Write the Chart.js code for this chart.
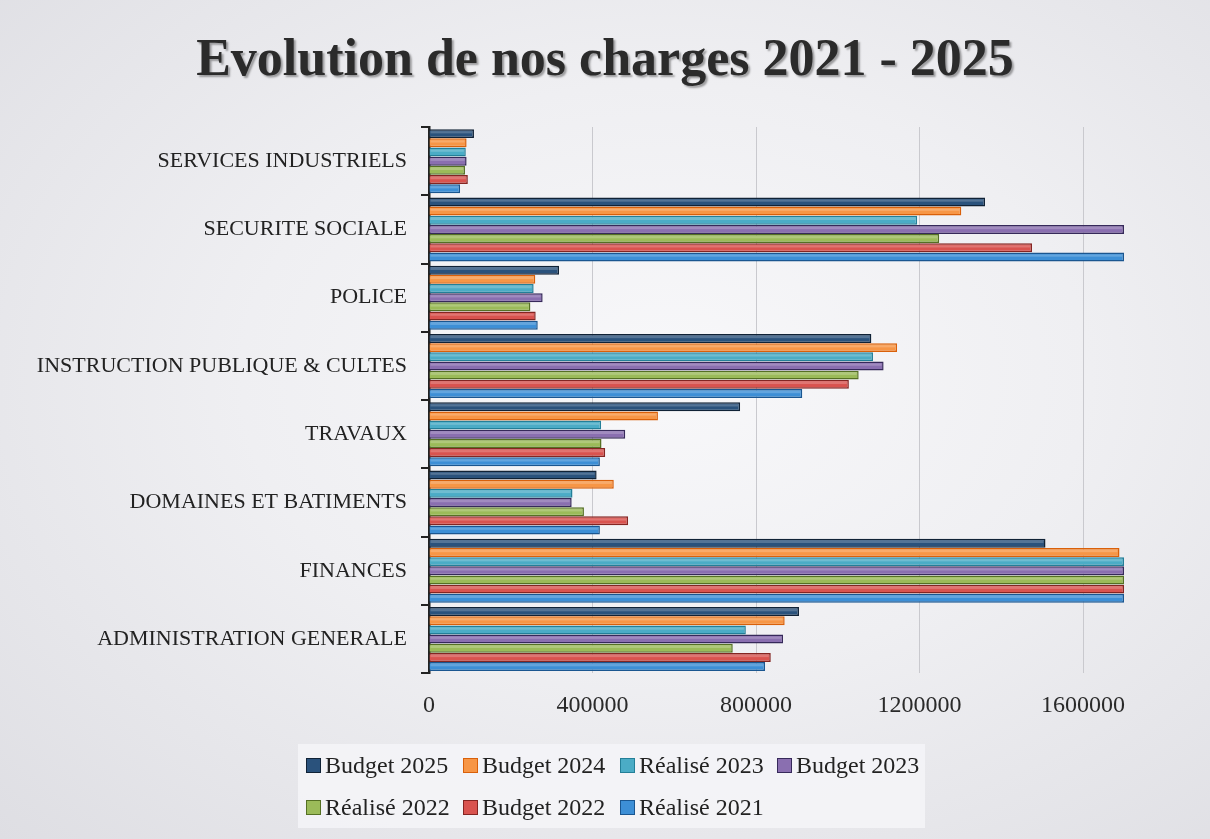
<!DOCTYPE html>
<html>
<head>
<meta charset="utf-8">
<script src="https://cdn.jsdelivr.net/npm/chart.js@4.4.1/dist/chart.umd.min.js"></script>
<style>
  html,body{margin:0;padding:0;}
  body{width:1210px;height:839px;overflow:hidden;position:relative;
    background: radial-gradient(ellipse at 55% 45%, #f8f8fa 0%, #efeff2 45%, #dedee3 100%);
    font-family:"Liberation Serif", serif;}
  #wrap{position:absolute;left:0;top:0;width:1210px;height:839px;}
  #title{position:absolute;left:0;top:28px;width:1210px;text-align:center;
    font:bold 52px/60px "Liberation Serif", serif;color:#2b2b2b;
    text-shadow:2px 2px 2px rgba(0,0,0,0.35);}
  #legend{position:absolute;left:298px;top:744px;width:627px;height:84px;
    background:rgba(244,244,248,0.85);box-sizing:border-box;padding:0 0 0 8px;
    display:grid;grid-template-columns:157px 157px 157px 150px;grid-auto-rows:42px;align-items:center;}
  .item{display:flex;align-items:center;font:24px "Liberation Serif", serif;color:#222;white-space:nowrap;}
  .sw{width:13px;height:13px;border:1.5px solid;margin-right:4px;flex:none;}
</style>
</head>
<body>
<div id="wrap"><canvas id="c" width="1210" height="839"></canvas></div>
<div id="title">Evolution de nos charges 2021 - 2025</div>
<div id="legend"></div>
<script>
const categories = ["SERVICES INDUSTRIELS","SECURITE SOCIALE","POLICE","INSTRUCTION PUBLIQUE & CULTES","TRAVAUX","DOMAINES ET BATIMENTS","FINANCES","ADMINISTRATION GENERALE"];
const seriesNames = ["Budget 2025","Budget 2024","Réalisé 2023","Budget 2023","Réalisé 2022","Budget 2022","Réalisé 2021"];
const budget2025  = [110000, 1360000, 318000, 1082000, 761000, 410000, 1508000, 905000];
const budget2024  = [92000, 1302000, 260000, 1145000, 560000, 452000, 1689000, 870000];
const realise2023 = [90000, 1194000, 256000, 1086000, 421000, 351000, 1700000, 775000];
const budget2023  = [92000, 1700000, 278000, 1112000, 480000, 349000, 1700000, 866000];
const realise2022 = [88000, 1248000, 248000, 1051000, 422000, 379000, 1700000, 743000];
const budget2022  = [95000, 1475000, 261000, 1027000, 431000, 487000, 1700000, 836000];
const realise2021 = [76000, 1700000, 266000, 913000, 418000, 418000, 1700000, 822000];
const xTicks = [0, 400000, 800000, 1200000, 1600000];
const axisMax = 1700000;

const fills   = ["#2a527c","#f79646","#4bacc6","#8a6fb0","#9bbb59","#d9534f","#3d8fd6"];
const borders = ["#102236","#d9600a","#237f98","#36295a","#557024","#842522","#1a5690"];
const values = [budget2025, budget2024, realise2023, budget2023, realise2022, budget2022, realise2021];

const datasets = seriesNames.map((n,i)=>({
  label:n, data:values[i], backgroundColor:fills[i], borderColor:borders[i],
  borderWidth:1.5, categoryPercentage:0.94, barPercentage:0.98
}));

const shine = {
  id:'shine',
  afterDatasetsDraw(chart){
    const ctx = chart.ctx;
    ctx.save();
    chart.data.datasets.forEach((ds,di)=>{
      chart.getDatasetMeta(di).data.forEach(bar=>{
        const p = bar.getProps(['x','y','base','height'], true);
        const top = p.y - p.height/2;
        ctx.fillStyle = 'rgba(255,255,255,0.2)';
        ctx.fillRect(p.base+1, top+2, Math.max(0,p.x-p.base-3), Math.max(1,p.height*0.25));
      });
    });
    ctx.restore();
  }
};

const serif = "'Liberation Serif', serif";
new Chart(document.getElementById('c'), {
  type:'bar',
  data:{labels:categories, datasets},
  plugins:[shine],
  options:{
    indexAxis:'y', responsive:false, animation:false,
    layout:{padding:{left:0,right:86,top:127,bottom:101}},
    plugins:{legend:{display:false}, title:{display:false}, tooltip:{enabled:false}},
    scales:{
      x:{min:0,max:axisMax,
        afterBuildTicks:(s)=>{ s.ticks = xTicks.map(v=>({value:v})); },
        ticks:{padding:18,color:'#2a2a2a',font:{family:serif,size:24},callback:(v)=>String(v)},
        grid:{color:'#c9c9ce',lineWidth:1,drawTicks:false},
        border:{display:false}},
      y:{
        afterFit:(s)=>{ s.width = 429; },
        ticks:{padding:14,color:'#222',font:{family:serif,size:22}},
        grid:{drawOnChartArea:false,drawTicks:true,tickLength:8,color:'#222',lineWidth:2},
        border:{display:true,color:'#222',width:2.5}}
    }
  }
});

const lg = document.getElementById('legend');
seriesNames.forEach((n,i)=>{
  const d=document.createElement('div');d.className='item';
  d.innerHTML='<span class="sw" style="background:'+fills[i]+';border-color:'+borders[i]+'"></span>'+n;
  lg.appendChild(d);
});
</script>
</body>
</html>
